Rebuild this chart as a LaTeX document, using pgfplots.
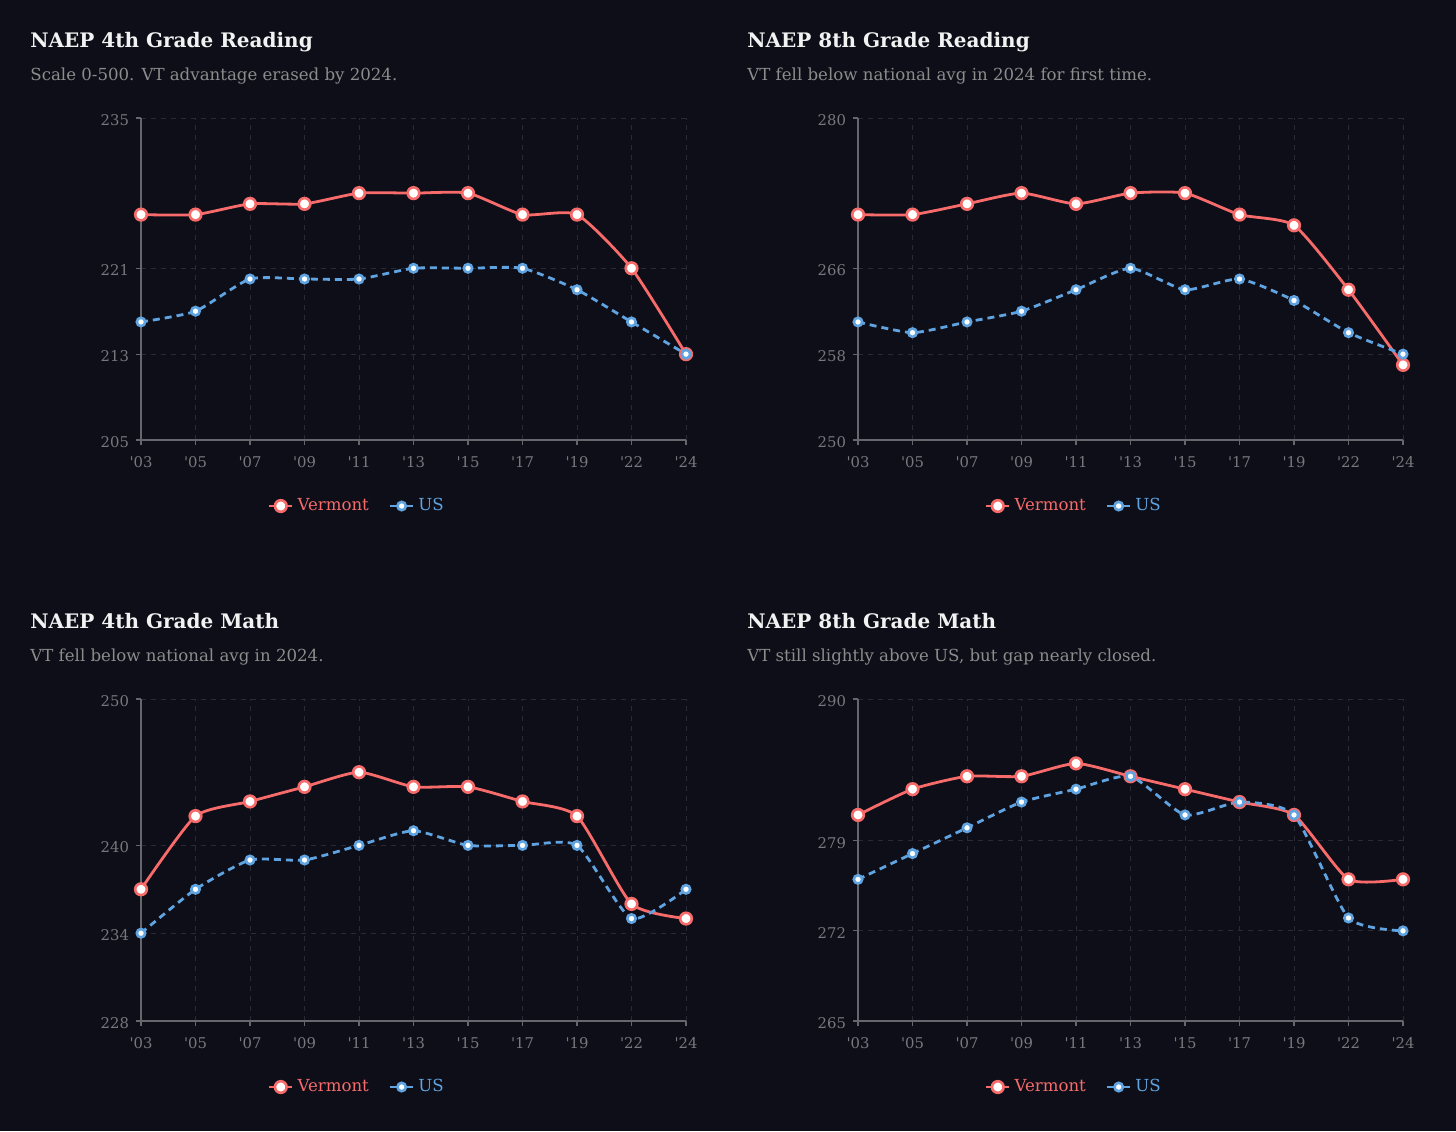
\documentclass[border=0pt]{standalone}
\usepackage{pgfplots}
\pgfplotsset{compat=1.18}
\usepackage{pgfplotstable}
\usepackage{fontspec}
\setmainfont{DejaVu Serif}

\definecolor{bg}{HTML}{0E0E18}
\definecolor{vt}{HTML}{F76B6B}
\definecolor{us}{HTML}{5FA3E0}
\definecolor{titlec}{HTML}{F2F2F2}
\definecolor{subc}{HTML}{8C8C8C}
\definecolor{tickc}{HTML}{77777D}
\definecolor{axisc}{HTML}{66666C}
\definecolor{gridc}{HTML}{2A2A36}

% x = survey index: '03 '05 '07 '09 '11 '13 '15 '17 '19 '22 '24
\pgfplotstableread{
x vt us
0 226 216
1 226 217
2 227 220
3 227 220
4 228 220
5 228 221
6 228 221
7 226 221
8 226 219
9 221 216
10 213 213
}\readfour
\pgfplotstableread{
x vt us
0 271 261
1 271 260
2 272 261
3 273 262
4 272 264
5 273 266
6 273 264
7 271 265
8 270 263
9 264 260
10 257 258
}\readeight
\pgfplotstableread{
x vt us
0 237 234
1 242 237
2 243 239
3 244 239
4 245 240
5 244 241
6 244 240
7 243 240
8 242 240
9 236 235
10 235 237
}\mathfour
\pgfplotstableread{
x vt us
0 281 276
1 283 278
2 284 280
3 284 282
4 285 283
5 284 284
6 283 281
7 282 282
8 281 281
9 276 273
10 276 272
}\matheight

\pgfplotsset{
  panel/.style={
    width=272.5pt, height=161pt, scale only axis,
    xmin=0, xmax=10,
    axis lines=left,
    axis line style={-, draw=axisc, line width=0.6pt},
    tick style={draw=axisc, line width=0.6pt},
    major tick length=2.5pt,
    tick align=outside,
    xtick={0,...,10},
    xticklabels={\textquotesingle03,\textquotesingle05,\textquotesingle07,\textquotesingle09,\textquotesingle11,\textquotesingle13,\textquotesingle15,\textquotesingle17,\textquotesingle19,\textquotesingle22,\textquotesingle24},
    grid=major,
    grid style={draw=gridc, line width=0.5pt, dash pattern=on 2.5pt off 2.5pt},
    ticklabel style={font=\fontsize{7.4}{8}\selectfont, text=tickc},
    xticklabel style={yshift=-2pt},
    yticklabel style={yshift=-1pt},
    /pgf/number format/assume math mode=true,
    clip=false,
    legend columns=2,
    legend style={at={(0.398,-0.205)}, anchor=center, draw=none, fill=none,
      font=\fontsize{8.3}{10}\selectfont,
      /tikz/every even column/.append style={column sep=8pt}},
    legend image code/.code={
      \draw[mark repeat=2,mark phase=2,solid,#1] plot coordinates {(0cm,0cm) (0.2cm,0cm) (0.4cm,0cm)};},
  },
  vtline/.style={color=vt, line width=1.4pt, smooth, tension=0.35,
    mark=*, mark size=2.9pt, mark options={solid, fill=white, draw=vt, line width=1.3pt}},
  usline/.style={color=us, line width=1.4pt, smooth, tension=0.35,
    dash pattern=on 3.5pt off 2.5pt,
    mark=*, mark size=2.1pt, mark options={solid, fill=white, draw=us, line width=1.3pt}},
}

\begin{document}
\begin{tikzpicture}
\fill[bg] (0,0) rectangle (728pt,-565.5pt);
\useasboundingbox (0,0) rectangle (728pt,-565.5pt);

% titles
\tikzset{ttl/.style={anchor=base west, inner sep=0pt, text=titlec, font=\fontsize{10}{12}\selectfont\bfseries},
         sub/.style={anchor=base west, inner sep=0pt, text=subc, font=\fontsize{8.3}{10}\selectfont}}
\node[ttl] at (15pt,-23.5pt) {NAEP 4th Grade Reading};
\node[sub] at (15pt,-40pt) {Scale 0-500. VT advantage erased by 2024.};
\node[ttl] at (373.5pt,-23.5pt) {NAEP 8th Grade Reading};
\node[sub] at (373.5pt,-40pt) {VT fell below national avg in 2024 for first time.};
\node[ttl] at (15pt,-314pt) {NAEP 4th Grade Math};
\node[sub] at (15pt,-330.5pt) {VT fell below national avg in 2024.};
\node[ttl] at (373.5pt,-314pt) {NAEP 8th Grade Math};
\node[sub] at (373.5pt,-330.5pt) {VT still slightly above US, but gap nearly closed.};

\begin{axis}[panel, at={(70.5pt,-59pt)}, anchor=north west,
  ymin=205, ymax=235, ytick={205,213,221,235}]
\addplot[vtline] table[x=x,y=vt] {\readfour};
\addlegendentry{\textcolor{vt}{Vermont}}
\addplot[usline] table[x=x,y=us] {\readfour};
\addlegendentry{\textcolor{us}{US}}
\end{axis}

\begin{axis}[panel, at={(429pt,-59pt)}, anchor=north west,
  ymin=250, ymax=280, ytick={250,258,266,280}]
\addplot[vtline] table[x=x,y=vt] {\readeight};
\addlegendentry{\textcolor{vt}{Vermont}}
\addplot[usline] table[x=x,y=us] {\readeight};
\addlegendentry{\textcolor{us}{US}}
\end{axis}

\begin{axis}[panel, at={(70.5pt,-349.5pt)}, anchor=north west,
  ymin=228, ymax=250, ytick={228,234,240,250}]
\addplot[vtline] table[x=x,y=vt] {\mathfour};
\addlegendentry{\textcolor{vt}{Vermont}}
\addplot[usline] table[x=x,y=us] {\mathfour};
\addlegendentry{\textcolor{us}{US}}
\end{axis}

\begin{axis}[panel, at={(429pt,-349.5pt)}, anchor=north west,
  ymin=265, ymax=290, ytick={265,272,279,290}]
\addplot[vtline] table[x=x,y=vt] {\matheight};
\addlegendentry{\textcolor{vt}{Vermont}}
\addplot[usline] table[x=x,y=us] {\matheight};
\addlegendentry{\textcolor{us}{US}}
\end{axis}
\end{tikzpicture}
\end{document}
